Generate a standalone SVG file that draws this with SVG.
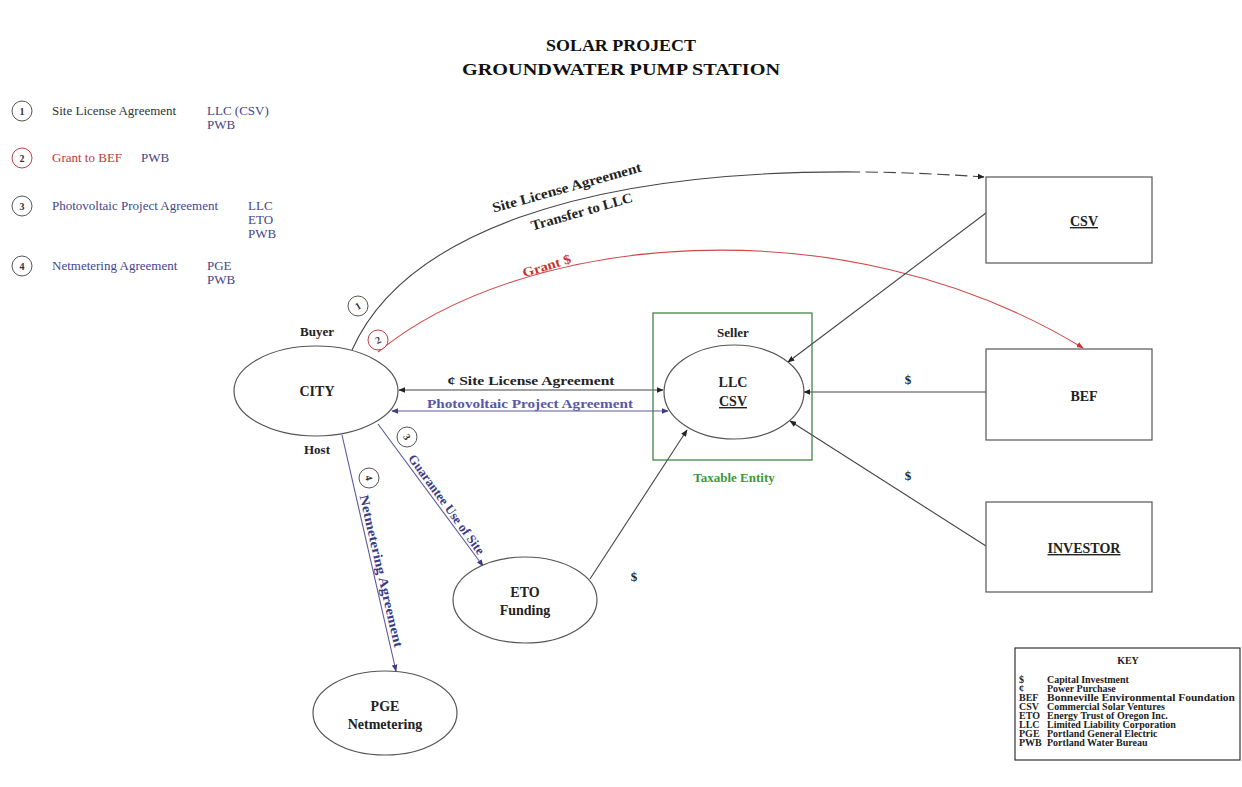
<svg xmlns="http://www.w3.org/2000/svg" width="1242" height="787" viewBox="0 0 1242 787">
<style>
text{font-family:"Liberation Serif","Times New Roman",serif;}
.t{font-size:17px;font-weight:bold;text-anchor:middle;fill:#111;}
.lg{font-size:13px;fill:#333;}
.lr{fill:#c03a3a;}
.lb{fill:#45458a;}
.nd{fill:#fff;stroke:#555;stroke-width:1.2;}
.nl{font-size:14px;font-weight:bold;text-anchor:middle;fill:#222;}
.sm{font-size:13px;font-weight:bold;text-anchor:middle;fill:#222;}
.cn{fill:none;stroke:#444;stroke-width:1.1;}
.cb{fill:none;stroke:#5a5aa0;stroke-width:1.1;}
.cr{fill:none;stroke:#d04848;stroke-width:1.1;}
.num{fill:#fff;stroke:#555;stroke-width:1;}
.nt{font-size:10px;font-weight:bold;text-anchor:middle;fill:#333;}
.ky{font-size:10px;font-weight:bold;fill:#222;}
</style>
<defs>
<marker id="ah" viewBox="0 0 10 10" refX="9" refY="5" markerWidth="7" markerHeight="7" orient="auto-start-reverse" markerUnits="userSpaceOnUse"><path d="M0,1 L10,5 L0,9 z" fill="#222"/></marker>
<marker id="ahb" viewBox="0 0 10 10" refX="9" refY="5" markerWidth="7" markerHeight="7" orient="auto-start-reverse" markerUnits="userSpaceOnUse"><path d="M0,1 L10,5 L0,9 z" fill="#3c3c80"/></marker>
<marker id="ahr" viewBox="0 0 10 10" refX="9" refY="5" markerWidth="7" markerHeight="7" orient="auto-start-reverse" markerUnits="userSpaceOnUse"><path d="M0,1 L10,5 L0,9 z" fill="#d03030"/></marker>
</defs>
<rect width="1242" height="787" fill="#fff"/>

<g id="title">
<text class="t" x="621" y="51" textLength="150" lengthAdjust="spacingAndGlyphs">SOLAR PROJECT</text>
<text class="t" x="621" y="75" textLength="318" lengthAdjust="spacingAndGlyphs">GROUNDWATER PUMP STATION</text>
</g>

<g id="legend">
<circle class="num" cx="22" cy="111" r="10"/><text class="nt" x="22" y="115">1</text>
<text class="lg" x="52" y="115">Site License Agreement</text>
<text class="lg lb" x="207" y="115">LLC (CSV)</text>
<text class="lg lb" x="207" y="129">PWB</text>
<circle class="num" cx="22" cy="158" r="10" style="stroke:#c04040"/><text class="nt lr" x="22" y="162">2</text>
<text class="lg lr" x="52" y="162">Grant to BEF</text>
<text class="lg lb" x="141" y="162">PWB</text>
<circle class="num" cx="22" cy="206" r="10"/><text class="nt" x="22" y="210">3</text>
<text class="lg lb" x="52" y="210">Photovoltaic Project Agreement</text>
<text class="lg lb" x="248" y="210">LLC</text>
<text class="lg lb" x="248" y="224">ETO</text>
<text class="lg lb" x="248" y="238">PWB</text>
<circle class="num" cx="22" cy="266" r="10"/><text class="nt" x="22" y="270">4</text>
<text class="lg lb" x="52" y="270">Netmetering Agreement</text>
<text class="lg lb" x="207" y="270">PGE</text>
<text class="lg lb" x="207" y="284">PWB</text>
</g>

<g id="connectors">
<path class="cn" d="M352,350 C410,220 630,152 984,177" pathLength="100" stroke-dasharray="82 0.8 1.8 0.8 1.8 0.8 1.8 0.8 1.8 0.8 1.8 0.8 1.8 0.8 1.8 0.8 1.8 0.8 1.8 0.8 100" marker-end="url(#ah)"/>
<path class="cr" d="M378,352 C520,235 840,200 1083,348" marker-end="url(#ahr)"/>
<line class="cn" x1="399" y1="390" x2="663" y2="390" marker-start="url(#ah)" marker-end="url(#ah)"/>
<line class="cb" x1="392" y1="411" x2="668" y2="411" marker-start="url(#ahb)" marker-end="url(#ahb)"/>
<line class="cn" x1="986" y1="213" x2="788" y2="362" marker-end="url(#ah)"/>
<line class="cn" x1="986" y1="392" x2="804" y2="392" marker-end="url(#ah)"/>
<line class="cn" x1="986" y1="546" x2="790" y2="421" marker-end="url(#ah)"/>
<line class="cn" x1="590" y1="579" x2="687" y2="430" marker-end="url(#ah)"/>
<line class="cb" x1="378" y1="424" x2="483" y2="566" marker-end="url(#ahb)"/>
<line class="cb" x1="342" y1="435" x2="396" y2="671" marker-end="url(#ahb)"/>

<text class="sm" textLength="154" lengthAdjust="spacingAndGlyphs" transform="translate(568,192) rotate(-15.5)" style="font-size:14px">Site License Agreement</text>
<text class="sm" textLength="105" lengthAdjust="spacingAndGlyphs" transform="translate(583,216) rotate(-16)" style="font-size:14px">Transfer to LLC</text>
<text class="sm" textLength="50" lengthAdjust="spacingAndGlyphs" transform="translate(548,270) rotate(-17)" style="fill:#c83030">Grant $</text>
<text class="sm" x="531" y="385" textLength="167" lengthAdjust="spacingAndGlyphs">¢ Site License Agreement</text>
<text class="sm" x="530" y="408" textLength="206" lengthAdjust="spacingAndGlyphs" style="fill:#5858a8">Photovoltaic Project Agreement</text>
<text class="sm" x="908" y="384">$</text>
<text class="sm" x="908" y="480">$</text>
<text class="sm" x="634" y="581">$</text>
<text class="sm" textLength="120" lengthAdjust="spacingAndGlyphs" style="fill:#3c3c88" transform="translate(443,507) rotate(54)">Guarantee Use of Site</text>
<text class="sm" textLength="156" lengthAdjust="spacingAndGlyphs" style="fill:#3c3c88" transform="translate(377,572) rotate(77)">Netmetering Agreement</text>

<circle class="num" cx="358" cy="306" r="10"/><text class="nt" transform="translate(358,306) rotate(-30)" y="3.5">1</text>
<circle class="num" cx="378" cy="340" r="10" style="stroke:#c04040"/><text class="nt lr" transform="translate(378,340) rotate(-25)" y="3.5">2</text>
<circle class="num" cx="407" cy="437" r="10"/><text class="nt" transform="translate(407,437) rotate(60)" y="3.5">3</text>
<circle class="num" cx="369" cy="478" r="10"/><text class="nt" transform="translate(369,478) rotate(77)" y="3.5">4</text>
</g>

<g id="city">
<ellipse class="nd" cx="316" cy="391" rx="82" ry="45"/>
<text class="nl" x="317" y="396">CITY</text>
<text class="sm" x="317" y="336">Buyer</text>
<text class="sm" x="317" y="454">Host</text>
</g>

<g id="llc">
<rect x="653" y="313" width="159" height="147" fill="none" stroke="#3a7a3a" stroke-width="1.2"/>
<ellipse class="nd" cx="734" cy="392" rx="70" ry="47"/>
<text class="sm" x="733" y="337">Seller</text>
<text class="nl" x="733" y="387">LLC</text>
<text class="nl" x="733" y="406" text-decoration="underline">CSV</text>
<text class="sm" x="734" y="482" style="fill:#3a9a3a">Taxable Entity</text>
</g>

<g id="csv">
<rect class="nd" x="986" y="177" width="166" height="86"/>
<text class="nl" x="1084" y="226" text-decoration="underline">CSV</text>
</g>
<g id="bef">
<rect class="nd" x="986" y="349" width="166" height="91"/>
<text class="nl" x="1084" y="401">BEF</text>
</g>
<g id="investor">
<rect class="nd" x="986" y="502" width="166" height="90"/>
<text class="nl" x="1084" y="553" text-decoration="underline">INVESTOR</text>
</g>
<g id="eto">
<ellipse class="nd" cx="525" cy="600" rx="72" ry="43"/>
<text class="nl" x="525" y="597">ETO</text>
<text class="nl" x="525" y="615">Funding</text>
</g>
<g id="pge">
<ellipse class="nd" cx="385" cy="713" rx="72" ry="42"/>
<text class="nl" x="385" y="711">PGE</text>
<text class="nl" x="385" y="729">Netmetering</text>
</g>

<g id="key">
<rect x="1015" y="648" width="225" height="112" fill="#fff" stroke="#333" stroke-width="1.2"/>
<text class="ky" x="1128" y="664" text-anchor="middle">KEY</text>
<text class="ky" x="1019" y="683">$</text><text class="ky" x="1047" y="683">Capital Investment</text>
<text class="ky" x="1019" y="692">¢</text><text class="ky" x="1047" y="692">Power Purchase</text>
<text class="ky" x="1019" y="701">BEF</text><text class="ky" x="1047" y="701" textLength="188" lengthAdjust="spacingAndGlyphs">Bonneville Environmental Foundation</text>
<text class="ky" x="1019" y="710">CSV</text><text class="ky" x="1047" y="710">Commercial Solar Ventures</text>
<text class="ky" x="1019" y="719">ETO</text><text class="ky" x="1047" y="719">Energy Trust of Oregon Inc.</text>
<text class="ky" x="1019" y="728">LLC</text><text class="ky" x="1047" y="728">Limited Liability Corporation</text>
<text class="ky" x="1019" y="737">PGE</text><text class="ky" x="1047" y="737">Portland General Electric</text>
<text class="ky" x="1019" y="746">PWB</text><text class="ky" x="1047" y="746">Portland Water Bureau</text>
</g>
</svg>
